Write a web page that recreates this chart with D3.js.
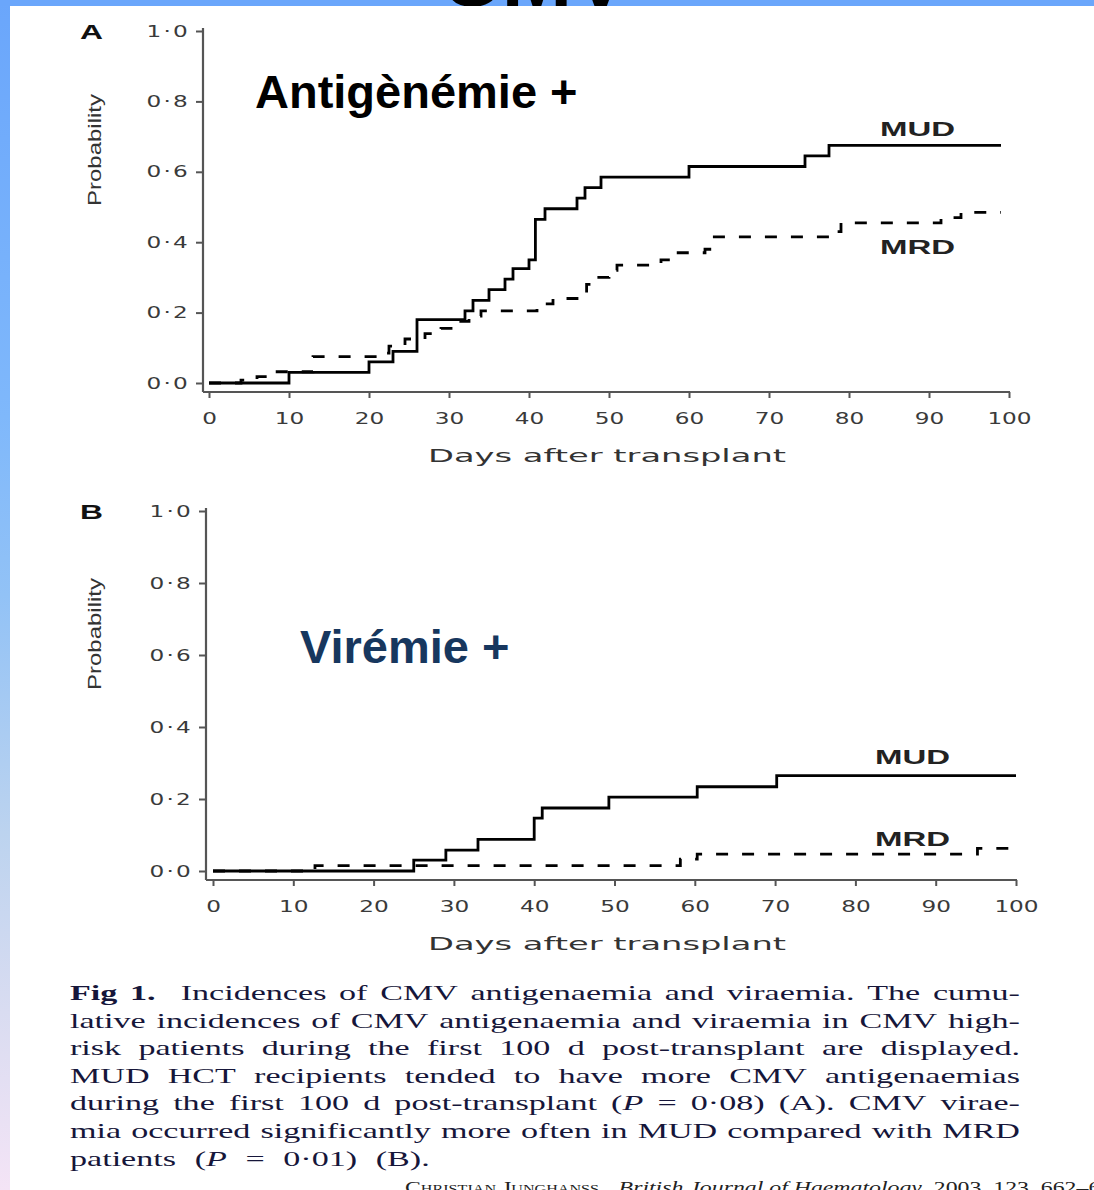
<!DOCTYPE html>
<html>
<head>
<meta charset="utf-8">
<script src="https://cdn.jsdelivr.net/npm/d3@7"></script>
<style>
html, body { margin: 0; padding: 0; background: #fff; }
svg { display: block; }
</style>
</head>
<body>
<svg id="page" width="1094" height="1190"></svg>
<script>
// ---- data ----
const xTicks = [0, 10, 20, 30, 40, 50, 60, 70, 80, 90, 100]
const yTicks = [0, 0.2, 0.4, 0.6, 0.8, 1.0]

// A : antigenaemia
const daysA_MUD = [0, 10, 20, 23, 26, 32, 33, 35, 37, 38, 40, 40.8, 42, 46, 47, 49, 60, 74.5, 77.5, 99]
const probA_MUD = [0, 0.03, 0.06, 0.09, 0.18, 0.205, 0.235, 0.265, 0.295, 0.325, 0.35, 0.465, 0.495, 0.525, 0.555, 0.585, 0.615, 0.645, 0.675, 0.675]
const daysA_MRD = [0, 4, 6, 8, 13, 21, 22.5, 24.5, 27, 29, 31, 32.5, 34, 41, 43, 46, 47.2, 48, 50, 51, 56.5, 58, 62, 62.6, 77.7, 79, 91.5, 94, 99]
const probA_MRD = [0, 0.008, 0.018, 0.032, 0.075, 0.085, 0.105, 0.125, 0.14, 0.155, 0.175, 0.19, 0.205, 0.225, 0.24, 0.255, 0.28, 0.3, 0.32, 0.335, 0.35, 0.37, 0.38, 0.415, 0.43, 0.455, 0.47, 0.485, 0.485]

// B : viraemia
const daysB_MUD = [0, 25, 29, 33, 40, 41, 49.3, 60.3, 70.2, 100]
const probB_MUD = [0, 0.03, 0.058, 0.088, 0.147, 0.175, 0.205, 0.234, 0.265, 0.265]
const daysB_MRD = [0, 12.7, 58.2, 60.3, 95.2, 100]
const probB_MRD = [0, 0.015, 0.033, 0.047, 0.063, 0.063]

const caption = [
  ['#Fig', '#1.', '', 'Incidences', 'of', 'CMV', 'antigenaemia', 'and', 'viraemia.', 'The', 'cumu-'],
  ['lative', 'incidences', 'of', 'CMV', 'antigenaemia', 'and', 'viraemia', 'in', 'CMV', 'high-'],
  ['risk', 'patients', 'during', 'the', 'first', '100', 'd', 'post-transplant', 'are', 'displayed.'],
  ['MUD', 'HCT', 'recipients', 'tended', 'to', 'have', 'more', 'CMV', 'antigenaemias'],
  ['during', 'the', 'first', '100', 'd', 'post-transplant', '(_P_', '=', '0·08)', '(A).', 'CMV', 'virae-'],
  ['mia', 'occurred', 'significantly', 'more', 'often', 'in', 'MUD', 'compared', 'with', 'MRD'],
  ['patients', '(_P_', '=', '0·01)', '(B).']
]

const svg = d3.select('#page')

// frame of the slide
const grad = svg.append('defs').append('linearGradient')
  .attr('id', 'band').attr('x1', 0).attr('y1', 0).attr('x2', 0).attr('y2', 1)
grad.selectAll('stop')
  .data([[0, '#6aa6fb'], [0.35, '#7fb8fb'], [0.5, '#92c2f6'], [0.7, '#bcd3ef'], [0.85, '#d9dcf1'], [1, '#f4e4f6']])
  .enter().append('stop')
  .attr('offset', d => d[0]).attr('stop-color', d => d[1])

svg.append('rect').attr('width', 1094).attr('height', 1190).attr('fill', 'url(#band)')
svg.append('rect').attr('width', 1094).attr('height', 6).attr('fill', '#6aa6fb')
svg.append('text').attr('x', 440).attr('y', 6)
  .attr('font-family', 'Liberation Sans, Arial, sans-serif').attr('font-weight', 'bold')
  .attr('font-size', 85).attr('fill', '#000').text('CMV')
svg.append('rect').attr('x', 10).attr('y', 6).attr('width', 1084).attr('height', 1184).attr('fill', '#fff')

const fmt = d => d3.format('.1f')(d).replace('.', '·')
const line = (x, y) => d3.line().x(d => x(d[0])).y(d => y(d[1])).curve(d3.curveStepAfter)

function panel(cfg) {
  const x = d3.scaleLinear().domain([0, 100]).range(cfg.xr)
  const y = d3.scaleLinear().domain([0, 1]).range(cfg.yr)
  const g = svg.append('g')

  // axis frame lines
  g.append('line').attr('x1', cfg.ax).attr('x2', cfg.ax).attr('y1', y(1) - 3).attr('y2', cfg.ay)
    .attr('stroke', '#555').attr('stroke-width', 2.2)
  g.append('line').attr('x1', cfg.ax).attr('x2', x(100) + 1).attr('y1', cfg.ay).attr('y2', cfg.ay)
    .attr('stroke', '#555').attr('stroke-width', 2.2)

  const xa = g.append('g').attr('transform', `translate(0,${cfg.ay})`)
    .call(d3.axisBottom(x).tickValues(xTicks).tickSize(6).tickPadding(15))
  xa.select('.domain').remove()
  xa.selectAll('line').attr('stroke', '#555').attr('stroke-width', 2)
  xa.selectAll('text')
    .attr('font-family', 'DejaVu Sans, sans-serif').attr('font-size', 16).attr('fill', '#3a3a3a')
    .attr('transform', 'scale(1.45,1)')

  const ya = g.append('g').attr('transform', `translate(${cfg.ax},0)`)
    .call(d3.axisLeft(y).tickValues(yTicks).tickFormat(fmt).tickSize(7).tickPadding(6))
  ya.select('.domain').remove()
  ya.selectAll('line').attr('stroke', '#555').attr('stroke-width', 2)
  ya.selectAll('text')
    .attr('x', 0).attr('transform', 'translate(-13,0) scale(1.45,1)')
    .attr('font-family', 'DejaVu Sans, sans-serif').attr('font-size', 16).attr('fill', '#3a3a3a')
    .attr('letter-spacing', 1.5)

  // axis titles
  g.append('text').attr('x', 428).attr('y', cfg.ay + 70)
    .attr('font-family', 'DejaVu Sans, sans-serif').attr('font-size', 18).attr('fill', '#333')
    .attr('textLength', 358).attr('lengthAdjust', 'spacingAndGlyphs')
    .text('Days after transplant')
  g.append('text')
    .attr('transform', `translate(101,${cfg.ycap}) rotate(-90)`)
    .attr('font-family', 'Liberation Sans, Arial, sans-serif').attr('font-size', 18).attr('fill', '#333')
    .attr('textLength', 112).attr('lengthAdjust', 'spacingAndGlyphs')
    .text('Probability')

  // panel letter
  g.append('text').attr('x', 80).attr('y', y(1) + 8)
    .attr('font-family', 'Liberation Sans, Arial, sans-serif').attr('font-weight', 'bold')
    .attr('font-size', 20).attr('fill', '#111')
    .attr('textLength', 23).attr('lengthAdjust', 'spacingAndGlyphs')
    .text(cfg.letter)

  // curves
  g.append('path').datum(d3.zip(cfg.mud[0], cfg.mud[1]))
    .attr('d', line(x, y)).attr('fill', 'none').attr('stroke', '#000').attr('stroke-width', 2.8)
  g.append('path').datum(d3.zip(cfg.mrd[0], cfg.mrd[1]))
    .attr('d', line(x, y)).attr('fill', 'none').attr('stroke', '#000').attr('stroke-width', 2.8)
    .attr('stroke-dasharray', '12,14')

  // curve labels
  cfg.labels.forEach(l => {
    g.append('text').attr('x', l[1]).attr('y', l[2])
      .attr('font-family', 'Liberation Sans, Arial, sans-serif').attr('font-weight', 'bold')
      .attr('font-size', 20).attr('fill', '#222')
      .attr('textLength', 75).attr('lengthAdjust', 'spacingAndGlyphs')
      .text(l[0])
  })

  // overlay title
  g.append('text').attr('x', cfg.title[1]).attr('y', cfg.title[2])
    .attr('font-family', 'Liberation Sans, Arial, sans-serif').attr('font-weight', 'bold')
    .attr('font-size', 47).attr('fill', cfg.title[3])
    .text(cfg.title[0])
}

panel({
  letter: 'A', xr: [209, 1009], yr: [383, 31], ax: 203, ay: 392, ycap: 206,
  mud: [daysA_MUD, probA_MUD], mrd: [daysA_MRD, probA_MRD],
  labels: [['MUD', 880, 136], ['MRD', 880, 254]],
  title: ['Antigènémie +', 255, 108, '#000']
})
panel({
  letter: 'B', xr: [213, 1016], yr: [871, 511], ax: 206, ay: 880, ycap: 690,
  mud: [daysB_MUD, probB_MUD], mrd: [daysB_MRD, probB_MRD],
  labels: [['MUD', 875, 764], ['MRD', 875, 846]],
  title: ['Virémie +', 300, 663, '#17375e']
})

// caption, justified word by word, glyphs widened like the scan
const capScale = 1.55
const capWidth = 950 / capScale
caption.forEach((words, i) => {
  const row = svg.append('g').attr('transform', `translate(70,${1000 + i * 27.6}) scale(${capScale},1)`)
  const nodes = words.filter(w => w !== '').map(w => {
    const bold = w.startsWith('#')
    const t = row.append('text')
      .attr('font-family', 'Liberation Serif, Times New Roman, serif').attr('font-size', 22)
      .attr('fill', '#16163a').attr('font-weight', bold ? 'bold' : 'normal')
    w.replace('#', '').split('_').forEach((s, k) => {
      t.append('tspan').attr('font-style', k % 2 ? 'italic' : 'normal').text(s)
    })
    return t
  })
  const widths = nodes.map(n => n.node().getComputedTextLength())
  const total = d3.sum(widths)
  const last = i === caption.length - 1
  let gap = last ? 12 : (capWidth - total) / (nodes.length - 1)
  if (i === 0) gap = (capWidth - total - 8) / (nodes.length - 1)
  let cx = 0
  nodes.forEach((n, k) => {
    n.attr('x', cx)
    cx += widths[k] + gap + (i === 0 && k === 1 ? 8 : 0)
  })
})

// source line, cut by the bottom edge
const src = svg.append('text').attr('transform', 'translate(405,1193) scale(1.4,1)')
  .attr('font-family', 'Liberation Serif, Times New Roman, serif').attr('font-size', 17).attr('fill', '#222')
src.append('tspan').attr('font-variant', 'small-caps').text('Christian Junghanss')
src.append('tspan').attr('font-style', 'italic').attr('dx', 14).text('British Journal of Haematology')
src.append('tspan').text(', 2003, 123, 662–670')
</script>
</body>
</html>
